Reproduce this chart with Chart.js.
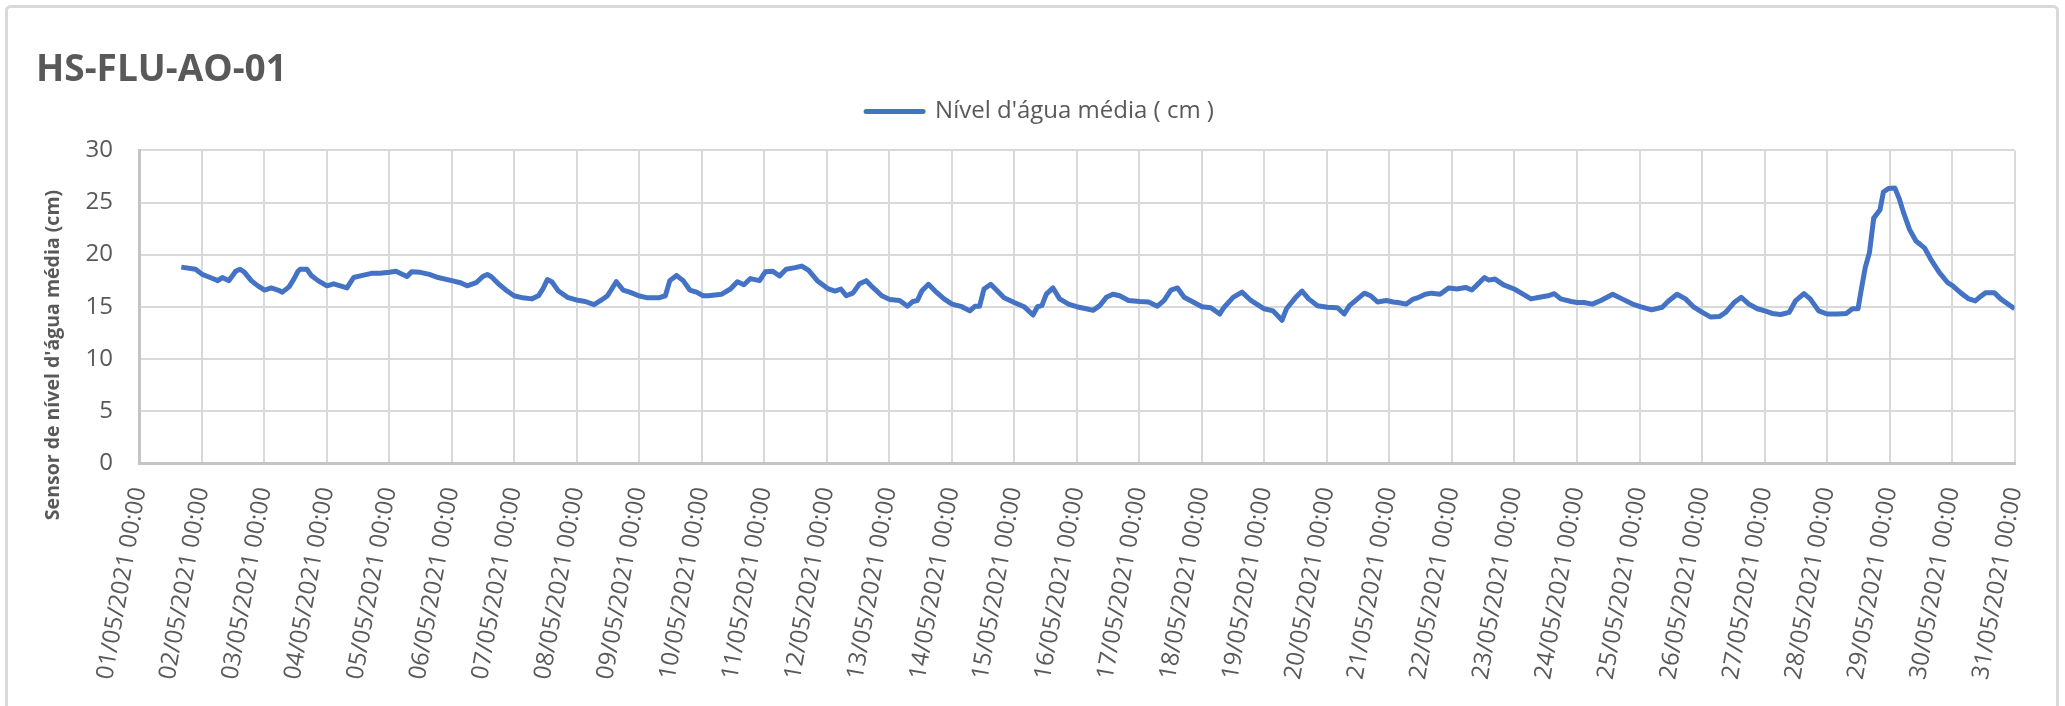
<!DOCTYPE html>
<html>
<head>
<meta charset="utf-8">
<script src="https://cdn.jsdelivr.net/npm/chart.js@4/dist/chart.umd.min.js"></script>
<style>
  html, body { margin: 0; padding: 0; background: #ffffff; }
  #wrap { width: 2065px; height: 706px; }
</style>
</head>
<body>
<div id="wrap"><canvas id="c" width="2065" height="706"></canvas></div>
<script>
// ---- data (day offset from 01/05/2021 00:00, water level in cm) ----
const chartTitle = 'HS-FLU-AO-01';
const seriesName = "Nível d'água média ( cm )";
const yAxisTitle = "Sensor de nível d'água média (cm)";

const tickLabels = [
  '01/05/2021 00:00','02/05/2021 00:00','03/05/2021 00:00','04/05/2021 00:00','05/05/2021 00:00',
  '06/05/2021 00:00','07/05/2021 00:00','08/05/2021 00:00','09/05/2021 00:00','10/05/2021 00:00',
  '11/05/2021 00:00','12/05/2021 00:00','13/05/2021 00:00','14/05/2021 00:00','15/05/2021 00:00',
  '16/05/2021 00:00','17/05/2021 00:00','18/05/2021 00:00','19/05/2021 00:00','20/05/2021 00:00',
  '21/05/2021 00:00','22/05/2021 00:00','23/05/2021 00:00','24/05/2021 00:00','25/05/2021 00:00',
  '26/05/2021 00:00','27/05/2021 00:00','28/05/2021 00:00','29/05/2021 00:00','30/05/2021 00:00',
  '31/05/2021 00:00'
];

const days = [
  0.677,0.905,1.011,1.118,1.261,1.332,1.439,1.546,1.617,1.688,1.795,1.902,
  2.009,2.115,2.222,2.293,2.400,2.472,2.543,2.578,2.685,2.756,2.863,
  3.006,3.113,3.219,3.326,3.433,3.575,3.718,3.860,
  4.003,4.110,4.217,4.288,4.359,4.501,4.644,4.786,
  5.000,5.142,5.249,5.392,5.499,5.570,5.641,5.748,5.890,
  5.997,6.140,6.282,6.389,6.460,6.531,6.603,6.709,6.852,
  6.994,7.137,7.279,7.386,7.493,7.635,7.742,7.849,
  7.991,8.134,8.312,8.419,8.490,8.597,8.704,8.810,8.917,
  9.024,9.107,9.320,9.460,9.570,9.676,9.780,9.925,
  10.017,10.138,10.245,10.351,10.494,10.600,10.707,10.849,
  11.027,11.134,11.226,11.312,11.418,11.525,11.632,11.738,11.880,
  12.009,12.165,12.293,12.378,12.450,12.520,12.627,12.734,12.876,
  13.004,13.161,13.289,13.374,13.445,13.516,13.623,13.730,13.836,
  14.000,14.156,14.299,14.370,14.441,14.512,14.619,14.725,14.868,
  14.996,15.152,15.259,15.366,15.472,15.579,15.686,15.828,
  16.006,16.148,16.290,16.397,16.504,16.610,16.717,16.860,
  17.001,17.144,17.286,17.357,17.500,17.642,17.784,
  17.997,18.139,18.282,18.353,18.495,18.602,18.708,18.850,
  19.007,19.170,19.277,19.360,19.490,19.600,19.700,19.810,19.950,
  20.060,20.134,20.270,20.370,20.470,20.574,20.675,20.810,20.946,
  21.080,21.217,21.318,21.386,21.520,21.589,21.690,21.825,21.995,
  22.096,22.265,22.400,22.536,22.637,22.739,22.908,
  23.003,23.111,23.246,23.382,23.571,23.720,23.889,
  24.011,24.194,24.363,24.464,24.600,24.735,24.870,
  25.005,25.140,25.276,25.378,25.513,25.628,25.750,25.885,
  26.007,26.122,26.257,26.393,26.494,26.630,26.730,26.866,
  27.001,27.170,27.306,27.407,27.495,27.543,27.610,27.678,27.746,27.847,27.901,27.982,
  28.084,28.152,28.219,28.320,28.422,28.557,28.659,28.794,28.930,
  29.011,29.133,29.268,29.370,29.437,29.539,29.674,29.776,30.000
];

const levels = [
  18.8,18.6,18.1,17.85,17.5,17.8,17.5,18.4,18.6,18.3,17.5,17.0,
  16.6,16.8,16.6,16.4,16.9,17.6,18.4,18.6,18.6,18.0,17.5,
  17.0,17.2,17.0,16.8,17.8,18.0,18.2,18.2,
  18.3,18.4,18.1,17.9,18.35,18.3,18.1,17.8,
  17.5,17.3,17.0,17.3,17.9,18.1,17.85,17.2,16.5,
  16.05,15.85,15.75,16.05,16.7,17.6,17.4,16.5,15.9,
  15.65,15.5,15.2,15.6,16.05,17.4,16.6,16.4,
  16.05,15.85,15.85,16.05,17.5,18.0,17.5,16.6,16.4,
  16.05,16.05,16.2,16.7,17.4,17.1,17.7,17.5,
  18.35,18.4,17.95,18.6,18.75,18.9,18.5,17.5,
  16.7,16.5,16.7,16.05,16.3,17.2,17.5,16.85,16.05,
  15.7,15.6,15.05,15.5,15.6,16.5,17.15,16.5,15.75,
  15.25,15.0,14.6,15.05,15.05,16.7,17.15,16.5,15.85,
  15.4,15.0,14.2,15.0,15.1,16.2,16.8,15.75,15.25,
  15.0,14.8,14.65,15.1,15.9,16.2,16.05,15.6,
  15.5,15.45,15.05,15.6,16.6,16.8,15.9,15.45,
  15.0,14.9,14.3,14.95,15.9,16.4,15.6,
  14.8,14.6,13.7,14.8,15.85,16.5,15.75,15.1,
  14.95,14.9,14.3,15.1,15.75,16.3,16.05,15.45,15.6,
  15.45,15.4,15.25,15.7,15.9,16.2,16.3,16.2,16.8,
  16.7,16.85,16.6,17.0,17.8,17.55,17.65,17.1,16.7,
  16.35,15.75,15.9,16.05,16.25,15.75,15.5,
  15.4,15.4,15.25,15.6,16.2,15.75,15.25,
  15.0,14.7,14.95,15.55,16.2,15.75,14.95,
  14.45,14.0,14.05,14.45,15.4,15.9,15.25,14.8,
  14.6,14.35,14.25,14.45,15.55,16.25,15.75,14.6,
  14.3,14.3,14.35,14.8,14.8,16.5,18.75,20.2,23.5,24.3,26.0,26.35,
  26.4,25.4,24.1,22.4,21.3,20.65,19.55,18.3,17.3,
  17.0,16.35,15.75,15.55,15.9,16.35,16.35,15.75,14.8
];

const yTicks = [0, 5, 10, 15, 20, 25, 30];

// ---- styling ----
const TEXT = '#595959';
const FONT = 'Open Sans';

const framePlugin = {
  id: 'frame',
  beforeDraw(chart) {
    const ctx = chart.ctx;
    ctx.save();
    ctx.fillStyle = '#ffffff';
    ctx.fillRect(0, 0, chart.width, chart.height);
    ctx.strokeStyle = '#d9d9d9';
    ctx.lineWidth = 3;
    ctx.beginPath();
    ctx.roundRect(6.5, 6.5, 2051, 740, 4);
    ctx.stroke();
    ctx.restore();
  },
  afterDraw(chart) {
    const ctx = chart.ctx;
    ctx.save();
    ctx.translate(53, 355);
    ctx.rotate(-Math.PI / 2);
    ctx.font = 'bold 19.5px "' + FONT + '"';
    ctx.fillStyle = TEXT;
    ctx.textAlign = 'center';
    ctx.textBaseline = 'middle';
    ctx.fillText(yAxisTitle, 0, 0);
    ctx.restore();
  }
};

const legendGapPlugin = {
  id: 'legendGap',
  beforeLayout(chart) {
    const lg = chart.legend;
    if (lg && !lg._patched) {
      const orig = lg.fit;
      lg.fit = function () { orig.call(this); this.height += 17; };
      lg._patched = true;
    }
  },
  afterLayout(chart) {
    if (chart.legend) { chart.legend.left += 26; }
  }
};

new Chart(document.getElementById('c'), {
  type: 'line',
  data: {
    datasets: [{
      label: seriesName,
      data: days.map((d, i) => ({ x: d, y: levels[i] })),
      borderColor: '#4472C4',
      backgroundColor: '#4472C4',
      borderWidth: 5,
      pointRadius: 0,
      tension: 0,
      borderJoinStyle: 'round'
    }]
  },
  options: {
    responsive: false,
    animation: false,
    devicePixelRatio: 1,
    layout: { padding: { left: 36, right: 47, top: 0, bottom: 0 } },
    plugins: {
      title: {
        display: true, text: chartTitle, align: 'start', color: TEXT,
        font: { family: FONT, size: 37, weight: 'bold' },
        padding: { top: 48, bottom: 0 }
      },
      legend: {
        display: true, position: 'top',
        labels: { boxWidth: 57, boxHeight: 0, padding: 7, color: TEXT, font: { family: FONT, size: 24 } }
      },
      tooltip: { enabled: false }
    },
    scales: {
      x: {
        type: 'linear', min: 0, max: 30,
        afterBuildTicks(scale) { scale.ticks = tickLabels.map((_, i) => ({ value: i })); },
        afterFit(scale) { scale.height = 243; },
        ticks: {
          autoSkip: false, maxRotation: 80, minRotation: 80, padding: 22,
          color: TEXT, font: { family: FONT, size: 24 },
          callback: (v) => tickLabels[v]
        },
        grid: { color: '#d9d9d9', lineWidth: 2, drawTicks: false },
        border: { color: '#c4c4c4', width: 3 }
      },
      y: {
        min: 0, max: 30,
        afterBuildTicks(scale) { scale.ticks = yTicks.map(v => ({ value: v })); },
        afterFit(scale) { scale.width = 103; },
        ticks: { padding: 26, color: TEXT, font: { family: FONT, size: 24 } },
        grid: { color: '#d9d9d9', lineWidth: 2, drawTicks: false },
        border: { color: '#c4c4c4', width: 3 }
      }
    }
  },
  plugins: [framePlugin, legendGapPlugin]
});
</script>
</body>
</html>
